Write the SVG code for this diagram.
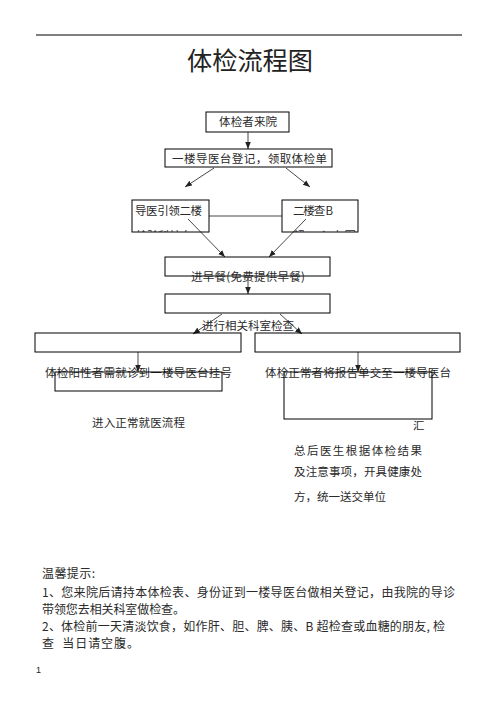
<svg xmlns="http://www.w3.org/2000/svg" width="496" height="702" viewBox="0 0 496 702">
<style>
.t{font-family:"Noto Sans CJK SC","Noto Sans",sans-serif;fill:#2a2a2a;font-size:11.5px}
.n{font-family:"Noto Sans CJK SC","Noto Sans",sans-serif;fill:#2a2a2a;font-size:12px}
.b{fill:none;stroke:#000;stroke-width:1}
.c{fill:none;stroke:#333;stroke-width:0.9}
.a{fill:none;stroke:#333;stroke-width:0.9;marker-end:url(#ah)}
</style>
<defs>
<marker id="ah" viewBox="0 0 10 10" refX="10" refY="5" markerWidth="7" markerHeight="7" orient="auto" markerUnits="userSpaceOnUse">
<path d="M0,1 L10,5 L0,9 Z" fill="#222"/>
</marker>
<clipPath id="clipL"><rect x="132" y="200" width="77" height="32"/></clipPath>
<clipPath id="clipR"><rect x="282" y="200" width="76" height="32"/></clipPath>
</defs>
<rect width="496" height="702" fill="#fff"/>
<line x1="36" y1="35" x2="462" y2="35" stroke="#000" stroke-width="1.2"/>
<text x="187" y="70" font-family="Noto Sans CJK SC, sans-serif" font-size="25" fill="#222" textLength="126" lengthAdjust="spacingAndGlyphs">体检流程图</text>

<g id="connectors">
<line class="a" x1="248" y1="132" x2="248" y2="149"/>
<line class="a" x1="214" y1="168" x2="185" y2="187"/>
<line class="a" x1="286" y1="168" x2="310" y2="187"/>
<line class="c" x1="209" y1="216" x2="282" y2="216"/>
<line class="a" x1="188" y1="219" x2="225" y2="257"/>
<line class="a" x1="306" y1="219" x2="269" y2="257"/>
<line class="a" x1="248" y1="276" x2="248" y2="294"/>
<line class="a" x1="222" y1="314" x2="193" y2="334"/>
<line class="a" x1="280" y1="314" x2="302" y2="334"/>
<line class="a" x1="138" y1="352" x2="138" y2="372"/>
<line class="a" x1="358" y1="352" x2="358" y2="372"/>
</g>

<g id="n1"><rect class="b" x="206" y="112" width="83" height="20"/><text class="t" x="219" y="126" textLength="58">体检者来院</text></g>
<g id="n2"><rect class="b" x="165" y="149" width="167" height="18"/><text class="t" x="172" y="163" textLength="155">一楼导医台登记，领取体检单</text></g>
<g id="n3"><rect class="b" x="132" y="200" width="77" height="32"/><text class="t" x="135" y="215" textLength="67">导医引领二楼</text><text class="t" x="136" y="240" textLength="56" clip-path="url(#clipL)">检验科抽血</text></g>
<g id="n4"><rect class="b" x="282" y="200" width="76" height="32"/><text class="t" x="293" y="215" textLength="40">二楼查 B</text><text class="t" x="293" y="240" textLength="63" clip-path="url(#clipR)">超、心电图</text></g>
<g id="n5"><rect class="b" x="165" y="257" width="165" height="19"/><text class="t" x="191" y="281" textLength="114">进早餐(免费提供早餐)</text></g>
<g id="n6"><rect class="b" x="165" y="294" width="165" height="19"/><text class="t" x="202" y="330" textLength="92">进行相关科室检查</text></g>
<g id="n7"><rect class="b" x="35" y="333" width="206" height="19"/></g>
<g id="n8"><rect class="b" x="255" y="333" width="205" height="19"/></g>
<g id="n9"><text class="t" x="45" y="377" textLength="187">体检阳性者需就诊到一楼导医台挂号</text><rect class="b" x="55" y="372" width="167" height="19"/></g>
<g id="n10"><text class="t" x="265" y="377" textLength="186">体检正常者将报告单交至一楼导医台</text><rect class="b" x="284" y="372" width="148" height="47"/></g>
<g id="n11"><text class="t" x="92" y="427" textLength="93">进入正常就医流程</text></g>
<g id="n12">
<text class="t" x="413" y="430" font-size="10.5">汇</text>
<text class="t" x="294" y="455" textLength="128" font-size="10.5">总后医生根据体检结果</text>
<text class="t" x="294" y="476" textLength="128" font-size="10.5">及注意事项，开具健康处</text>
<text class="t" x="294" y="501" textLength="92" font-size="10.5">方，统一送交单位</text>
</g>

<g id="notes">
<text class="n" x="42" y="578" textLength="53">温馨提示:</text>
<text class="n" x="42" y="597" textLength="413">1、您来院后请持本体检表、身份证到一楼导医台做相关登记，由我院的导诊</text>
<text class="n" x="42" y="614" textLength="143">带领您去相关科室做检查。</text>
<text class="n" x="42" y="631" textLength="403">2、体检前一天清淡饮食，如作肝、胆、脾、胰、B 超检查或血糖的朋友, 检</text>
<text class="n" x="42" y="648" textLength="97" xml:space="preserve">查  当日请空腹。</text>
<text x="36" y="673" font-family="Liberation Sans, sans-serif" font-size="9" fill="#222">1</text>
</g>
</svg>
